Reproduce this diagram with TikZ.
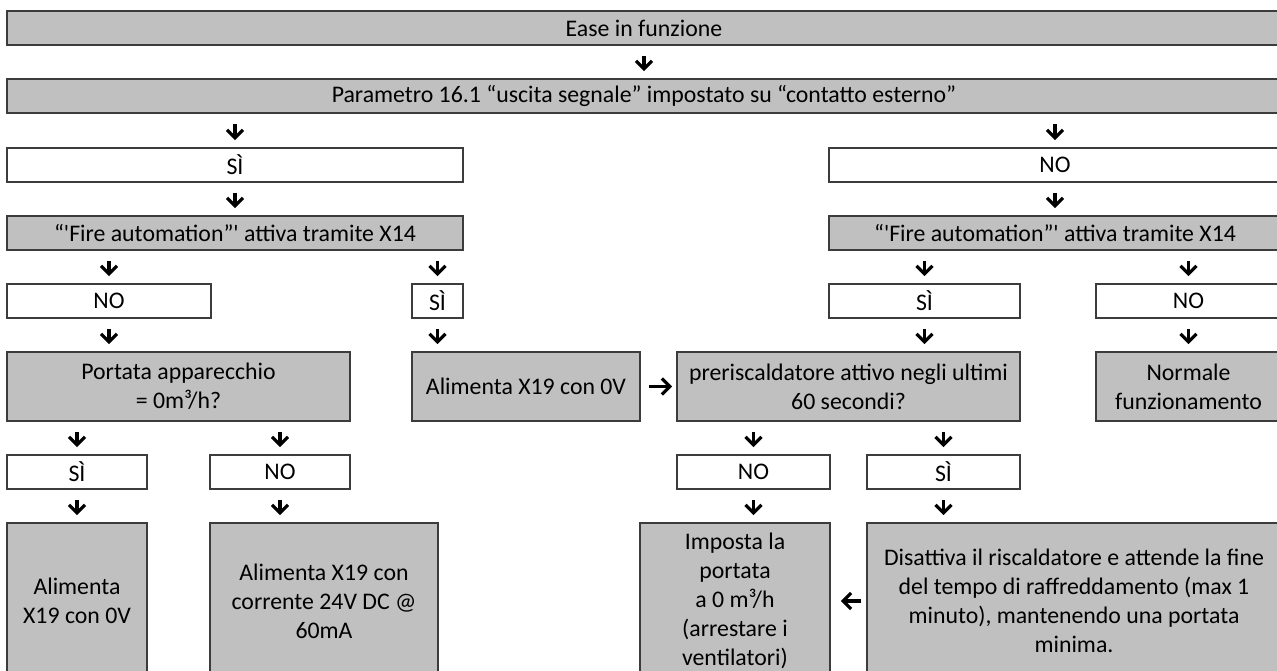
\documentclass[tikz,border=0pt]{standalone}
\usepackage{fontspec}
\setmainfont{Carlito}
\usetikzlibrary{arrows.meta}
\definecolor{boxgray}{RGB}{192,192,192}
\definecolor{boxline}{RGB}{60,60,60}
\tikzstyle{every box} = []
\tikzstyle{box} = [draw=boxline, line width=1.8pt, fill=boxgray, align=center, inner sep=0pt, minimum height=34pt, every box]
\tikzstyle{answer} = [box, fill=white]
\tikzstyle{flow} = [-{Straight Barb[length=8pt,width=16pt]}, line width=3.2pt, shorten <=10pt, shorten >=7pt]

\begin{document}
\begin{tikzpicture}[x=1pt,y=-1pt]
        \tikzstyle{every node} = [font=\fontsize{23.8}{29}\selectfont]
        \useasboundingbox (0,0) rectangle (1277,671);
        \clip (0,0) rectangle (1277,671);

        \node[box, minimum width=1274pt] (ease) at (644,28) {Ease in funzione};
        \node[box, minimum width=1274pt] (param) at (644,96) {Parametro 16.1 “uscita segnale” impostato su “contatto esterno”};

        \node[answer, minimum width=456pt] (si1) at (235,165) {SÌ};
        \node[answer, minimum width=452pt] (no1) at (1055,165) {NO};

        \node[box, minimum width=456pt] (fireL) at (235,233) {“\textquotesingle Fire automation”\textquotesingle{} attiva tramite X14};
        \node[box, minimum width=452pt] (fireR) at (1055,233) {“\textquotesingle Fire automation”\textquotesingle{} attiva tramite X14};

        \node[answer, minimum width=204pt] (noL) at (109,301) {NO};
        \node[answer, minimum width=51pt] (siS) at (437.5,301) {SÌ};
        \node[answer, minimum width=191pt] (siR) at (924.5,301) {SÌ};
        \node[answer, minimum width=185pt] (noR) at (1188.5,301) {NO};

        \node[box, minimum width=343pt, minimum height=69pt] (portata) at (178.5,386.5) {Portata apparecchio\\= 0m³/h?};
        \node[box, minimum width=228pt, minimum height=69pt] (alimZero) at (526,386.5) {Alimenta X19 con 0V};
        \node[box, minimum width=343pt, minimum height=69pt] (preris) at (848.5,386.5) {preriscaldatore attivo negli ultimi\\60 secondi?};
        \node[box, minimum width=185pt, minimum height=69pt] (normale) at (1188.5,386.5) {Normale\\funzionamento};

        \node[answer, minimum width=140pt] (siP) at (77,472) {SÌ};
        \node[answer, minimum width=140pt] (noP) at (280,472) {NO};
        \node[answer, minimum width=153pt] (noQ) at (753.5,472) {NO};
        \node[answer, minimum width=153pt] (siQ) at (943.5,472) {SÌ};

        \node[box, minimum width=140pt, minimum height=156pt] (alimA) at (77,601) {Alimenta\\X19 con 0V};
        \node[box, minimum width=228pt, minimum height=156pt] (alimB) at (324,601) {Alimenta X19 con\\corrente 24V DC @\\60mA};
        \node[box, minimum width=190pt, minimum height=156pt] (imposta) at (735,601) {Imposta la\\portata\\a 0 m³/h\\(arrestare i\\ventilatori)};
        \node[box, minimum width=414pt, minimum height=156pt] (disatt) at (1074,601) {Disattiva il riscaldatore e attende la fine\\del tempo di raffreddamento (max 1\\minuto), mantenendo una portata\\minima.};

        \draw[flow] (ease) -- (param);
        \draw[flow] (si1 |- param.south) -- (si1);
        \draw[flow] (no1 |- param.south) -- (no1);
        \draw[flow] (si1) -- (fireL);
        \draw[flow] (no1) -- (fireR);

        \draw[flow] (noL |- fireL.south) -- (noL);
        \draw[flow] (siS |- fireL.south) -- (siS);
        \draw[flow] (siR |- fireR.south) -- (siR);
        \draw[flow] (noR |- fireR.south) -- (noR);

        \draw[flow] (noL) -- (noL |- portata.north);
        \draw[flow] (siS) -- (siS |- alimZero.north);
        \draw[flow] (siR) -- (siR |- preris.north);
        \draw[flow] (noR) -- (normale);
        \draw[flow, shorten <=8pt, shorten >=4pt] (alimZero) -- (preris);

        \draw[flow] (siP |- portata.south) -- (siP);
        \draw[flow] (noP |- portata.south) -- (noP);
        \draw[flow] (noQ |- preris.south) -- (noQ);
        \draw[flow] (siQ |- preris.south) -- (siQ);

        \draw[flow] (siP) -- (alimA);
        \draw[flow] (noP) -- (noP |- alimB.north);
        \draw[flow] (noQ) -- (noQ |- imposta.north);
        \draw[flow] (siQ) -- (siQ |- disatt.north);
        \draw[flow, shorten <=5pt, shorten >=10pt] (disatt) -- (imposta);
    \end{tikzpicture}
\end{document}
